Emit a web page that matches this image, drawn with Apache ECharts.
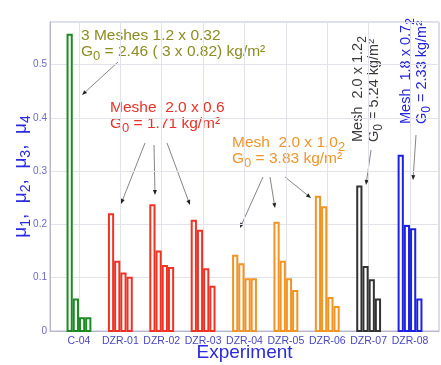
<!DOCTYPE html>
<html><head><meta charset="utf-8">
<script src="https://cdn.jsdelivr.net/npm/echarts@6/dist/echarts.min.js"></script>
<style>html,body{margin:0;padding:0;background:#fff}#c{width:441px;height:365px}</style>
</head><body><div id="c"></div>
<script>
// ---- data ----
const categories = ['C-04','DZR-01','DZR-02','DZR-03','DZR-04','DZR-05','DZR-06','DZR-07','DZR-08'];
const mu1 = [0.558,0.221,0.238,0.209,0.143,0.205,0.254,0.273,0.331];
const mu2 = [0.061,0.132,0.151,0.190,0.127,0.132,0.234,0.122,0.199];
const mu3 = [0.026,0.110,0.124,0.118,0.099,0.099,0.064,0.097,0.193];
const mu4 = [0.026,0.102,0.120,0.085,0.099,0.077,0.047,0.061,0.061];
const yTickValues = [0,0.1,0.2,0.3,0.4,0.5];
// ---- styles ----
const groupColors = ['#1e8a22','#ee3325','#ee3325','#ee3325','#f29424','#f29424','#f29424','#333333','#1c22e0'];
const barUnit = 0.15;

function barSeries(vals, k){
  return {
    type:'custom', clip:false,
    data: vals.map((v,i)=>[i+1, v, i]),
    renderItem:(params, api)=>{
      const xi = api.value(0);
      const top = api.coord([xi, api.value(1)]);
      const base = api.coord([xi, 0]);
      const w = api.size([barUnit, 0])[0];
      const lw = 2;
      const x = top[0] + (k-1.5)*w - w/2;
      return {type:'rect',
        shape:{x:x+lw/2, y:top[1]+lw/2, width:w-lw, height:base[1]-top[1]-lw/2},
        style:{fill:'#fff', stroke:groupColors[api.value(2)], lineWidth:lw}};
    }
  };
}

const chart = echarts.init(document.getElementById('c'));
const tickVals = categories.map((c,i)=>i+1);

function arrow(x1,y1,x2,y2){
  const a = Math.atan2(y2-y1,x2-x1), L=5, H=2;
  const bx = x2 - L*Math.cos(a), by = y2 - L*Math.sin(a);
  return [
    {type:'line', shape:{x1,y1,x2:bx,y2:by}, style:{stroke:'#666',lineWidth:0.8}},
    {type:'polygon', shape:{points:[[x2,y2],[bx+H*Math.sin(a),by-H*Math.cos(a)],[bx-H*Math.sin(a),by+H*Math.cos(a)]]}, style:{fill:'#222'}}
  ];
}
const ff = 'Liberation Sans, Arial, sans-serif';
function ann(x,y,lines,color,rot,fs){
  fs = fs || 15.5;
  return {type:'text', x, y, rotation: rot||0,
    style:{text:lines, fill:color, font:fs+'px '+ff, lineHeight:16,
      rich:{
        n:{fontSize:fs, fontFamily:ff, fill:color, lineHeight:16},
        s:{fontSize:fs-2.5, fontFamily:ff, fill:color, padding:[9,0,0,0], lineHeight:16}
      }}};
}

const graphics = [].concat(
  [ann(81,28,'{n|3 Meshes 1.2 x 0.32}\n{n|G}{s|0}{n| = 2.46 ( 3 x 0.82) kg/m²}','#8c8c22')],
  arrow(118,62,82,95),
  [ann(110,100,'{n|Meshe  2.0 x 0.6}\n{n|G}{s|0}{n| = 1.71 kg/m²}','#e83228')],
  arrow(145,143,121,204), arrow(154,145,155,195), arrow(167,143,190,205),
  [ann(232,135,'{n|Mesh  2.0 x 1.0}{s|2}\n{n|G}{s|0}{n| = 3.83 kg/m²}','#f0952a')],
  arrow(263,177,240,228), arrow(270,177,275,208), arrow(285,177,311,198),
  [ann(350,142,'{n|Mesh  2.0 x 1.2}{s|2}\n{n|G}{s|0}{n| = 5.24 kg/m²}','#3a3a3a', Math.PI/2, 14.5)],
  arrow(371,150,366,185),
  [ann(398,124,'{n|Mesh  1.8 x 0.7}{s|2}\n{n|G}{s|0}{n| = 2.33 kg/m²}','#2424e0', Math.PI/2, 14.5)],
  arrow(416,135,413,180)
);

chart.setOption({
  animation:false,
  backgroundColor:'#fff',
  grid:{left:50, right:2, top:22, bottom:34, show:true, borderColor:'#b8b8dc', borderWidth:1,
    containLabel:false, outerBoundsMode:'none'},
  xAxis:{type:'value', min:0.3, max:9.7,
    name:'Experiment', nameLocation:'middle', nameGap:12, nameMoveOverlap:false,
    nameTextStyle:{color:'#2a2ae0', fontSize:19, fontFamily:ff},
    axisLine:{show:true, lineStyle:{color:'#b8b8c8'}},
    axisTick:{show:false, customValues:tickVals},
    axisLabel:{customValues:tickVals, color:'#4848c0', fontSize:10.5, fontFamily:ff, margin:5,
      formatter:v=>categories[Math.round(v)-1]||''},
    splitLine:{show:true, lineStyle:{color:'#e2e2ec', width:1}}
  },
  yAxis:{type:'value', min:0, max:0.58, interval:0.1,
    name:'{n|μ}{s|1}{n|,  μ}{s|2}{n|,  μ}{s|3}{n|,  μ}{s|4}', nameLocation:'middle', nameGap:18, nameMoveOverlap:false,
    nameTextStyle:{color:'#2a2ae0', fontSize:19, fontFamily:ff,
      rich:{n:{fontSize:19, fontFamily:ff, color:'#2a2ae0', lineHeight:22},
            s:{fontSize:14, fontFamily:ff, color:'#2a2ae0', padding:[10,0,0,0], lineHeight:22}}},
    axisLine:{show:true, lineStyle:{color:'#b8b8c8'}},
    axisTick:{show:false},
    axisLabel:{color:'#6a6ac8', fontSize:10, fontFamily:ff, margin:3, showMaxLabel:false,
      formatter:v=>yTickValues.some(t=>Math.abs(t-v)<1e-9)? String(Math.round(v*10)/10):''},
    splitLine:{show:true, lineStyle:{color:'#e2e2ec', width:1}}
  },
  series:[barSeries(mu1,0), barSeries(mu2,1), barSeries(mu3,2), barSeries(mu4,3)],
  graphic:graphics
});
</script></body></html>
